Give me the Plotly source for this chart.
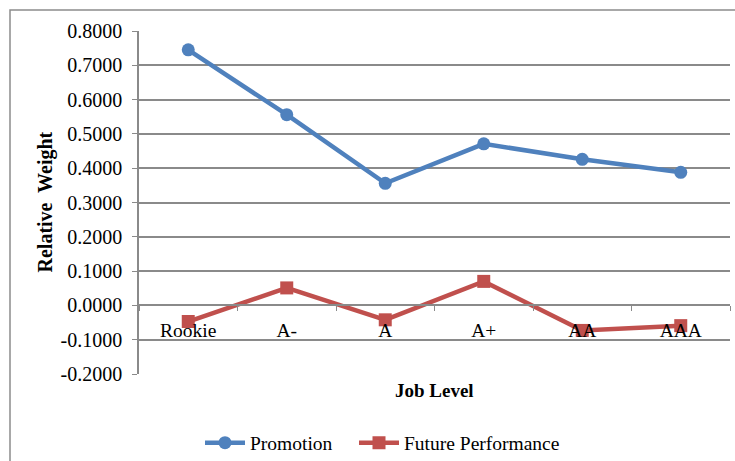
import plotly.graph_objects as go

# Relative weight of each predictor by job level
job_levels = ["Rookie", "A-", "A", "A+", "AA", "AAA"]
promotion = [0.745, 0.556, 0.356, 0.471, 0.426, 0.388]
future_performance = [-0.047, 0.051, -0.042, 0.070, -0.073, -0.059]
y_ticks = [-0.2, -0.1, 0.0, 0.1, 0.2, 0.3, 0.4, 0.5, 0.6, 0.7, 0.8]
y_tick_text = ["%.4f" % v for v in y_ticks]  # plain hyphen for negatives

BLUE = "#4F81BD"
RED = "#C0504D"
GRID = "#8A8A8A"
FONT = "Liberation Serif, Times New Roman, serif"

W, H = 735, 461
L, R, T, B = 139, 5, 31, 87
pw, ph = W - L - R, H - T - B


def px_x(x):
    return (x - L) / pw


def px_y(y):
    return (H - B - y) / ph


fig = go.Figure()
fig.add_trace(go.Scatter(
    x=job_levels, y=promotion, name="Promotion", mode="lines+markers",
    line=dict(color=BLUE, width=4.5), marker=dict(symbol="circle", size=13, color=BLUE),
    legend="legend",
))
fig.add_trace(go.Scatter(
    x=job_levels, y=future_performance, name="Future Performance", mode="lines+markers",
    line=dict(color=RED, width=4.5), marker=dict(symbol="square", size=13, color=RED),
    legend="legend2",
))

legend_style = dict(orientation="h", xanchor="left", y=px_y(443), yanchor="middle",
                    font=dict(size=19.5), itemwidth=40, bgcolor="rgba(0,0,0,0)")

fig.update_layout(
    width=W, height=H,
    margin=dict(l=L, r=R, t=T, b=B, pad=0, autoexpand=False),
    paper_bgcolor="white", plot_bgcolor="white",
    font=dict(family=FONT, size=20, color="black"),
    showlegend=True,
    legend=dict(x=px_x(200), **legend_style),
    legend2=dict(x=px_x(354), **legend_style),
    xaxis=dict(
        type="category", range=[-0.5, 5.5], anchor="free", position=0.2,
        showline=True, linecolor=GRID, linewidth=1.5, showgrid=False, zeroline=False,
        ticks="outside", tickson="boundaries", ticklen=5, tickcolor=GRID,
        ticklabelstandoff=7, tickfont=dict(size=19.5), automargin=False,
    ),
    yaxis=dict(
        range=[-0.2, 0.8], tickvals=y_ticks, ticktext=y_tick_text,
        showline=True, linecolor=GRID, linewidth=1.5,
        showgrid=True, gridcolor=GRID, gridwidth=1.5, zeroline=False,
        ticks="outside", ticklen=5, tickcolor=GRID, ticklabelstandoff=6,
        tickfont=dict(size=20), automargin=False,
    ),
    annotations=[
        dict(text="<b>Job Level</b>", xref="paper", yref="paper", x=0.5, y=px_y(390),
             xanchor="center", yanchor="middle", showarrow=False, font=dict(size=19)),
        dict(text="<b>Relative  Weight</b>", xref="paper", yref="paper", x=px_x(45), y=0.5,
             xanchor="center", yanchor="middle", textangle=-90, showarrow=False,
             font=dict(size=20)),
    ],
    shapes=[
        dict(type="rect", xref="paper", yref="paper", x0=px_x(10), x1=px_x(760),
             y0=px_y(490), y1=px_y(10), line=dict(color="#8C8C8C", width=1.5), layer="below"),
    ],
)

fig.write_html("out.html")
